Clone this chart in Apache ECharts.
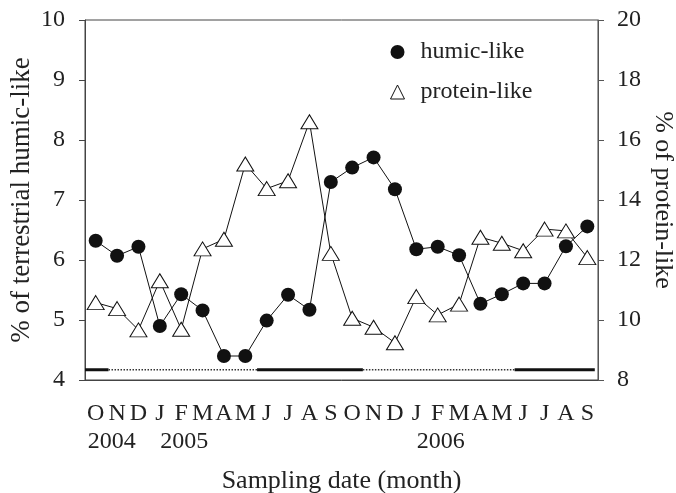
<!DOCTYPE html>
<html>
<head>
<meta charset="utf-8">
<script src="https://cdn.jsdelivr.net/npm/echarts@6/dist/echarts.min.js"></script>
<style>
  html, body { margin: 0; padding: 0; background: #fff; }
  #chart { width: 676px; height: 493px; }
</style>
</head>
<body>
<div id="chart"></div>
<script>
  // sampling months, Oct 2004 .. Sep 2006
  const months = ['O', 'N', 'D', 'J', 'F', 'M', 'A', 'M', 'J', 'J', 'A', 'S',
    'O', 'N', 'D', 'J', 'F', 'M', 'A', 'M', 'J', 'J', 'A', 'S']
  const years = ['2004', '', '', '', '2005', '', '', '', '', '', '', '',
    '', '', '', '', '2006', '', '', '', '', '', '', '']

  // % of terrestrial humic-like (left axis)
  const humic = [6.32, 6.07, 6.22, 4.90, 5.43, 5.16, 4.40, 4.40, 4.99, 5.42, 5.17, 7.30,
    7.54, 7.71, 7.18, 6.18, 6.22, 6.08, 5.27, 5.43, 5.61, 5.61, 6.23, 6.56]
  // % of protein-like (right axis)
  const protein = [10.58, 10.38, 9.67, 11.31, 9.69, 12.37, 12.69, 15.20, 14.38, 14.64, 16.61, 12.22,
    10.06, 9.76, 9.24, 10.78, 10.17, 10.53, 12.76, 12.56, 12.31, 13.03, 12.97, 12.08]

  // season bar along the bottom, in month units from the left edge
  const seasonFrom = [0, 1.1, 8.05, 13.0, 20.1]
  const seasonTo = [1.1, 8.05, 13.0, 20.1, 23.85]
  const seasonDry = [true, false, true, false, true]

  const leftTicks = [4, 10, 1]
  const rightTicks = [8, 20, 2]

  const font = '"Liberation Serif", serif'
  const ink = '#222'
  const seasonLevel = 4.17

  const chart = echarts.init(document.getElementById('chart'))

  const seasonSeries = seasonFrom.map((from, i) => ({
    name: 'season' + i,
    type: 'line',
    xAxisIndex: 1,
    yAxisIndex: 0,
    symbol: 'none',
    silent: true,
    z: 1,
    lineStyle: seasonDry[i]
      ? { color: '#111', width: 3, type: 'solid' }
      : { color: '#333', width: 1.5, type: [1.5, 1.5] },
    data: [[from, seasonLevel], [seasonTo[i], seasonLevel]]
  }))

  chart.setOption({
    animation: false,
    textStyle: { fontFamily: font, color: ink },
    grid: {
      left: 85,
      right: 78,
      top: 20,
      bottom: 113,
      outerBoundsMode: 'none',
      show: true,
      borderColor: '#444',
      borderWidth: 1
    },
    legend: {
      orient: 'vertical',
      left: 385,
      top: 35,
      itemWidth: 14,
      itemHeight: 14,
      itemGap: 16,
      textStyle: { fontFamily: font, fontSize: 24, color: ink, padding: [0, 0, 0, 11] },
      data: [
        { name: 'humic-like', icon: 'circle', itemStyle: { color: '#111', borderWidth: 0 } },
        { name: 'protein-like', icon: 'triangle', itemStyle: { color: '#fff', borderColor: '#111', borderWidth: 1 } }
      ]
    },
    xAxis: [
      {
        type: 'category',
        data: months,
        boundaryGap: true,
        name: 'Sampling date (month)',
        nameLocation: 'middle',
        nameGap: 88,
        nameMoveOverlap: false,
        nameTextStyle: { fontFamily: font, fontSize: 26, color: ink },
        axisLine: { lineStyle: { color: '#444', width: 1 } },
        axisTick: { alignWithLabel: true, interval: 0, length: 5, lineStyle: { color: '#444' } },
        axisLabel: {
          interval: 0,
          margin: 20,
          formatter: (value, idx) => {
            const y = years[idx]
            if (!y) return '{m|' + value + '}'
            return '{m|' + value + '}\n{' + (idx === 0 ? 'ya' : 'yb') + '|' + y + '}'
          },
          rich: {
            m: { fontFamily: font, fontSize: 24, color: ink, lineHeight: 28, align: 'center' },
            ya: { fontFamily: font, fontSize: 24, color: ink, lineHeight: 28, align: 'center', padding: [0, 0, 0, 32] },
            yb: { fontFamily: font, fontSize: 24, color: ink, lineHeight: 28, align: 'center', padding: [0, 0, 0, 6] }
          }
        },
        splitLine: { show: false }
      },
      {
        type: 'value',
        min: 0,
        max: 24,
        show: false
      }
    ],
    yAxis: [
      {
        type: 'value',
        position: 'left',
        min: leftTicks[0],
        max: leftTicks[1],
        interval: leftTicks[2],
        name: '% of terrestrial humic-like',
        nameLocation: 'middle',
        nameRotate: 90,
        nameGap: 50,
        nameMoveOverlap: false,
        nameTextStyle: { fontFamily: font, fontSize: 27, color: ink },
        axisLine: { show: true, lineStyle: { color: '#444' } },
        axisTick: { show: true, length: 6, lineStyle: { color: '#444' } },
        axisLabel: { margin: 20, fontFamily: font, fontSize: 24, color: ink },
        splitLine: { show: false }
      },
      {
        type: 'value',
        position: 'right',
        min: rightTicks[0],
        max: rightTicks[1],
        interval: rightTicks[2],
        name: '% of protein-like',
        nameLocation: 'middle',
        nameRotate: -90,
        nameGap: 52,
        nameMoveOverlap: false,
        nameTextStyle: { fontFamily: font, fontSize: 26, color: ink },
        axisLine: { show: true, lineStyle: { color: '#555' } },
        axisTick: { show: true, length: 6, lineStyle: { color: '#555' } },
        axisLabel: { margin: 19, fontFamily: font, fontSize: 24, color: ink },
        splitLine: { show: false }
      }
    ],
    series: seasonSeries.concat([
      {
        name: 'protein-like',
        type: 'line',
        yAxisIndex: 1,
        data: protein,
        symbol: 'triangle',
        symbolSize: [17, 14],
        z: 2,
        lineStyle: { color: '#111', width: 1 },
        itemStyle: { color: '#fff', borderColor: '#111', borderWidth: 1 }
      },
      {
        name: 'humic-like',
        type: 'line',
        yAxisIndex: 0,
        data: humic,
        symbol: 'circle',
        symbolSize: 14,
        z: 3,
        lineStyle: { color: '#111', width: 1 },
        itemStyle: { color: '#111', borderWidth: 0 }
      }
    ])
  })
</script>
</body>
</html>
